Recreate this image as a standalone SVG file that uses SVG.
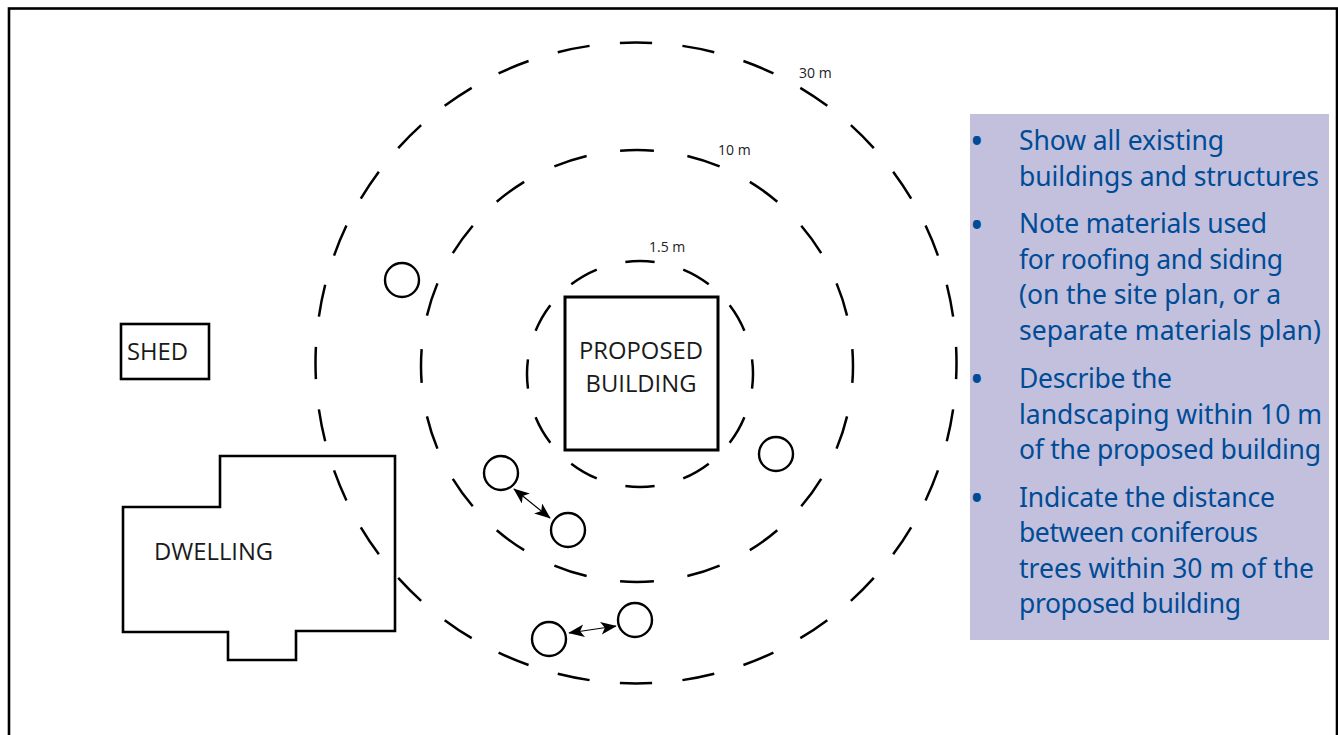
<svg xmlns="http://www.w3.org/2000/svg" width="1338" height="735" viewBox="0 0 1338 735">
<style>
.s{fill:none;stroke:#000;stroke-width:2.6}
.r{fill:none;stroke:#000;stroke-width:2.5}
.t{fill:none;stroke:#000;stroke-width:2.4}
.l{font-family:"Open Sans","Noto Sans",sans-serif;font-size:23.8px;fill:#1a1a1a}
.m{font-family:"Open Sans","Noto Sans",sans-serif;font-size:14px;fill:#222}
.b{font-family:"Noto Sans","Open Sans",sans-serif;font-size:26.5px;fill:#004b96}
.d{font-size:36px}
.a{stroke:#000;stroke-width:1.2;fill:none;marker-start:url(#h);marker-end:url(#h)}
</style>
<defs><marker id="h" viewBox="0 0 10 8" refX="9.5" refY="4" markerWidth="16" markerHeight="13" markerUnits="userSpaceOnUse" orient="auto-start-reverse"><path d="M0 0L10 4L0 8L2.5 4Z" fill="#000"/></marker></defs>
<rect width="1338" height="735" fill="#fff"/>
<rect x="9" y="8.5" width="1328" height="740" class="s" id="frame"/>
<g id="ring-30m"><circle cx="636" cy="363" r="320.5" pathLength="360" stroke-dasharray="5.8 5.45" stroke-dashoffset="2.9" class="r"/><text x="799" y="78" class="m">30 m</text></g>
<g id="ring-10m"><circle cx="637" cy="366" r="216" pathLength="360" stroke-dasharray="9 9" stroke-dashoffset="4.5" class="r"/><text x="718" y="155" class="m">10 m</text></g>
<g id="ring-1-5m"><circle cx="640" cy="374" r="113" pathLength="360" stroke-dasharray="15 15" stroke-dashoffset="7.5" class="r"/><text x="649" y="252" class="m">1.5 m</text></g>
<g id="panel"><rect x="970" y="114" width="359" height="526" fill="#c2c0dd"/>
<g class="b">
<text x="970" y="153.500" class="d">•</text><text x="1019" y="150" textLength="205">Show all existing</text><text x="1019" y="186" textLength="300">buildings and structures</text>
<text x="970" y="237.500" class="d">•</text><text x="1019" y="233" textLength="248">Note materials used</text><text x="1019" y="269" textLength="264">for roofing and siding</text><text x="1019" y="304" textLength="262">(on the site plan, or a</text><text x="1019" y="340" textLength="302">separate materials plan)</text>
<text x="970" y="391.500" class="d">•</text><text x="1019" y="388" textLength="153">Describe the</text><text x="1019" y="424" textLength="303">landscaping within 10 m</text><text x="1019" y="459" textLength="302">of the proposed building</text>
<text x="970" y="510.500" class="d">•</text><text x="1019" y="507" textLength="256">Indicate the distance</text><text x="1019" y="542" textLength="239">between coniferous</text><text x="1019" y="578" textLength="295">trees within 30 m of the</text><text x="1019" y="613" textLength="222">proposed building</text>
</g></g>
<g id="proposed"><rect x="565" y="297" width="153" height="153" fill="none" stroke="#000" stroke-width="3"/><text x="641" y="358.500" text-anchor="middle" class="l">PROPOSED</text><text x="641" y="391.500" text-anchor="middle" class="l">BUILDING</text></g>
<g id="shed"><rect x="121" y="324" width="88" height="55" class="s"/><text x="127" y="359.500" class="l">SHED</text></g>
<g id="dwelling"><path d="M220 456H395V631H296V660H228V632H123V507H220Z" class="s"/><text x="154" y="560" class="l">DWELLING</text></g>
<g id="trees">
<circle cx="402" cy="280" r="17" class="t"/><circle cx="776" cy="454" r="17" class="t"/><circle cx="501" cy="473" r="17" class="t"/><circle cx="568" cy="530" r="17" class="t"/><circle cx="549" cy="639" r="17" class="t"/><circle cx="635" cy="620" r="17" class="t"/>
</g>
<g id="connectors"><line x1="514" y1="489" x2="550" y2="518" class="a"/><line x1="569" y1="633" x2="616" y2="626" class="a"/></g>
</svg>
